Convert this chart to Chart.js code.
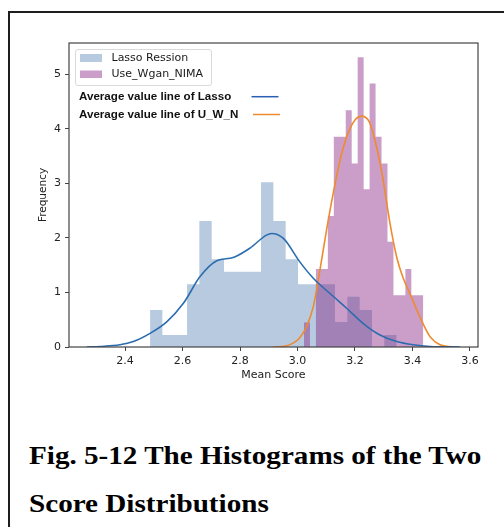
<!DOCTYPE html>
<html>
<head>
<meta charset="utf-8">
<script src="https://cdn.jsdelivr.net/npm/chart.js@4.4.1/dist/chart.umd.min.js"></script>
<style>
  html, body { margin: 0; padding: 0; background: #fff; overflow: hidden; }
  #page { width: 504px; height: 527px; position: relative; overflow: hidden; }
  .rule { position: absolute; background: #1e1e1e; }
  #chart { position: absolute; left: 0; top: 0; }
  .caption {
    position: absolute; left: 29px; white-space: nowrap;
    font-family: "Liberation Serif", "Times New Roman", serif;
    font-weight: bold; font-size: 25px; line-height: 25px; color: #000;
    transform: scaleX(1.165); transform-origin: 0 0;
  }
</style>
</head>
<body>
<div id="page">
  <div class="rule" style="left: 8px; top: 11px; width: 496px; height: 2px;"></div>
  <div class="rule" style="left: 8px; top: 11px; width: 2px; height: 516px;"></div>
  <canvas id="chart" width="504" height="400"></canvas>
  <div class="caption" style="top: 443px;">Fig. 5-12 The Histograms of the Two</div>
  <div class="caption" style="top: 491px;">Score Distributions</div>
</div>

<script>
// histogram bins (density)
const lassoBinStart = 2.487;
const lassoBinWidth = 0.0429;
const lassoDensity = [0.68, 0.22, 0.22, 1.15, 2.31, 1.61, 1.38, 1.38, 1.38, 3.02,
  2.31, 1.61, 1.15, 1.15, 1.15, 0.46, 0.92, 0.68, 0, 0.22];

const uwnBinStart = 3.0226;
const uwnBinWidth = 0.02075;
const uwnDensity = [0.45, 0, 1.43, 1.43, 2.4, 3.85, 3.85, 4.34, 3.36, 5.31,
  2.89, 4.83, 3.85, 3.36, 1.93, 0.95, 0.95, 1.43, 0.95, 0.95];

// average value (kde) lines
const lassoKdeX = [2.267, 2.313, 2.382, 2.429, 2.487, 2.545, 2.603, 2.661, 2.719, 2.776,
  2.834, 2.892, 2.910, 2.951, 3.008, 3.055, 3.113, 3.171, 3.229, 3.287, 3.345, 3.403, 3.461, 3.565];
const lassoKdeY = [0, 0.01, 0.04, 0.1, 0.25, 0.46, 0.8, 1.29, 1.58, 1.64,
  1.81, 2.05, 2.08, 1.99, 1.56, 1.26, 0.98, 0.71, 0.43, 0.22, 0.1, 0.04, 0.01, 0];

const uwnKdeX = [2.915, 2.96, 2.985, 3.008, 3.031, 3.055, 3.078, 3.101, 3.124, 3.148,
  3.171, 3.2, 3.225, 3.252, 3.275, 3.298, 3.322, 3.345, 3.368, 3.391, 3.426, 3.461, 3.496, 3.54];
const uwnKdeY = [0, 0.02, 0.07, 0.17, 0.37, 0.74, 1.41, 2.14, 2.81, 3.42,
  3.85, 4.16, 4.23, 4.1, 3.67, 3.06, 2.26, 1.65, 1.26, 0.98, 0.55, 0.19, 0.04, 0];

const xTicks = [2.4, 2.6, 2.8, 3.0, 3.2, 3.4, 3.6];
const yTicks = [0, 1, 2, 3, 4, 5];

const legendPatches = ["Lasso Ression", "Use_Wgan_NIMA"];
const legendLines = ["Average value line of Lasso", "Average value line of U_W_N"];

const blueFill = "rgba(60, 110, 170, 0.37)";
const purpleFill = "rgba(135, 35, 130, 0.44)";
const blueLine = "#2b6cae";
const orangeLine = "#ef8a2e";

// step outline: value i holds from edge i to edge i+1
function histPoints(start, width, vals) {
  let pts = vals.map((v, i) => ({ x: start + i * width, y: v }));
  pts.push({ x: start + vals.length * width, y: 0 });
  return pts;
}

function linePoints(xs, ys) {
  return xs.map((x, i) => ({ x: x, y: ys[i] }));
}

const boxAndLegend = {
  id: "boxAndLegend",
  afterDraw(chart) {
    const ctx = chart.ctx;
    const a = chart.chartArea;
    ctx.save();
    // axes box
    ctx.strokeStyle = "#444";
    ctx.lineWidth = 1.2;
    ctx.strokeRect(a.left, a.top, a.right - a.left, a.bottom - a.top);

    // legend frame
    ctx.fillStyle = "rgba(255,255,255,0.8)";
    ctx.strokeStyle = "#d9d9d9";
    ctx.lineWidth = 1;
    ctx.beginPath();
    ctx.roundRect(75.5, 49.5, 136, 36, 2.5);
    ctx.fill();
    ctx.stroke();

    ctx.fillStyle = blueFill;
    ctx.fillRect(80, 54, 22, 8);
    ctx.fillStyle = purpleFill;
    ctx.fillRect(80, 70.5, 22, 7.5);

    ctx.fillStyle = "#1a1a1a";
    ctx.textBaseline = "middle";
    ctx.textAlign = "left";
    ctx.font = '11px "DejaVu Sans"';
    ctx.fillText(legendPatches[0], 111.5, 58.5);
    ctx.fillText(legendPatches[1], 111.5, 74.5);

    ctx.fillStyle = "#111";
    ctx.font = 'bold 11.6px "Liberation Sans"';
    ctx.fillText(legendLines[0], 79, 97);
    ctx.fillText(legendLines[1], 79, 115);

    ctx.lineWidth = 1.5;
    ctx.strokeStyle = "#2a5fb2";
    ctx.beginPath();
    ctx.moveTo(251.5, 96.7);
    ctx.lineTo(278.5, 96.7);
    ctx.stroke();
    ctx.strokeStyle = orangeLine;
    ctx.beginPath();
    ctx.moveTo(253, 114.5);
    ctx.lineTo(280, 114.5);
    ctx.stroke();
    ctx.restore();
  }
};

new Chart(document.getElementById("chart"), {
  type: "line",
  data: {
    datasets: [
      {
        label: legendLines[0],
        data: linePoints(lassoKdeX, lassoKdeY),
        borderColor: blueLine,
        borderWidth: 1.6,
        pointRadius: 0,
        fill: false,
        cubicInterpolationMode: "monotone",
        order: 0
      },
      {
        label: legendLines[1],
        data: linePoints(uwnKdeX, uwnKdeY),
        borderColor: orangeLine,
        borderWidth: 1.6,
        pointRadius: 0,
        fill: false,
        cubicInterpolationMode: "monotone",
        order: 0
      },
      {
        label: legendPatches[1],
        data: histPoints(uwnBinStart, uwnBinWidth, uwnDensity),
        stepped: "before",
        borderWidth: 0,
        borderColor: "rgba(0,0,0,0)",
        backgroundColor: purpleFill,
        pointRadius: 0,
        fill: "origin",
        order: 1
      },
      {
        label: legendPatches[0],
        data: histPoints(lassoBinStart, lassoBinWidth, lassoDensity),
        stepped: "before",
        borderWidth: 0,
        borderColor: "rgba(0,0,0,0)",
        backgroundColor: blueFill,
        pointRadius: 0,
        fill: "origin",
        order: 2
      }
    ]
  },
  options: {
    responsive: false,
    animation: false,
    events: [],
    layout: { padding: { left: 0, top: 43, right: 26, bottom: 0 } },
    plugins: {
      legend: { display: false },
      tooltip: { enabled: false }
    },
    scales: {
      x: {
        type: "linear",
        min: 2.205,
        max: 3.628,
        afterBuildTicks: (s) => { s.ticks = xTicks.map((v) => ({ value: v })); },
        afterFit: (s) => { s.height = 53; },
        grid: { display: true, drawOnChartArea: false, drawTicks: true, tickLength: 4, color: "#444" },
        border: { display: false },
        ticks: {
          padding: 4,
          color: "#222",
          font: { family: "DejaVu Sans", size: 11 },
          callback: (v) => Number(v).toFixed(1)
        },
        title: {
          display: true,
          text: "Mean Score",
          color: "#222",
          font: { family: "DejaVu Sans", size: 11 },
          padding: { top: 0, bottom: 18 }
        }
      },
      y: {
        min: 0,
        max: 5.57,
        afterBuildTicks: (s) => { s.ticks = yTicks.map((v) => ({ value: v })); },
        afterFit: (s) => { s.width = 69; },
        grid: { display: true, drawOnChartArea: false, drawTicks: true, tickLength: 4, color: "#444" },
        border: { display: false },
        ticks: {
          padding: 4,
          color: "#222",
          font: { family: "DejaVu Sans", size: 11 },
          callback: (v) => String(v)
        },
        title: {
          display: true,
          text: "Frequency",
          color: "#222",
          font: { family: "DejaVu Sans", size: 10.5 },
          padding: { top: 37, bottom: 0 }
        }
      }
    }
  },
  plugins: [boxAndLegend]
});
</script>
</body>
</html>
